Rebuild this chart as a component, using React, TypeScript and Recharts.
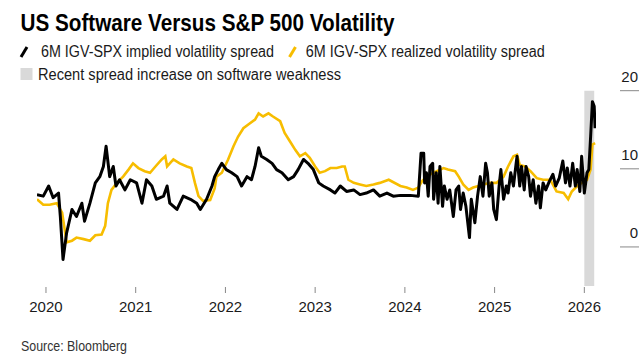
import { LineChart, Line, XAxis, YAxis, ReferenceArea } from "recharts"

// implied volatility spread (black), fractional year + value
const impliedDates = [
	2019.9, 2019.97, 2020.03, 2020.08, 2020.14, 2020.16, 2020.19, 2020.23, 2020.29, 2020.34,
	2020.4, 2020.43, 2020.49, 2020.55, 2020.6, 2020.64, 2020.67, 2020.71, 2020.75, 2020.78,
	2020.82, 2020.88, 2020.94, 2021.01, 2021.07, 2021.12, 2021.18, 2021.23, 2021.31, 2021.35,
	2021.38, 2021.46, 2021.53, 2021.61, 2021.68, 2021.72, 2021.79, 2021.85, 2021.88, 2021.92,
	2021.96, 2022.01, 2022.07, 2022.13, 2022.18, 2022.24, 2022.29, 2022.33, 2022.37, 2022.4,
	2022.46, 2022.52, 2022.57, 2022.63, 2022.7, 2022.76, 2022.81, 2022.87, 2022.92, 2022.98,
	2023.04, 2023.09, 2023.17, 2023.22, 2023.28, 2023.35, 2023.43, 2023.5, 2023.57, 2023.65,
	2023.72, 2023.8, 2023.87, 2023.95, 2024.06, 2024.15, 2024.18, 2024.21, 2024.22, 2024.24,
	2024.26, 2024.28, 2024.31, 2024.32, 2024.35, 2024.37, 2024.39, 2024.42, 2024.44, 2024.47,
	2024.5, 2024.54, 2024.57, 2024.6, 2024.62, 2024.65, 2024.68, 2024.72, 2024.74, 2024.78,
	2024.81, 2024.84, 2024.87, 2024.9, 2024.92, 2024.94, 2024.97, 2024.99, 2025.02, 2025.05,
	2025.07, 2025.1, 2025.13, 2025.15, 2025.18, 2025.21, 2025.24, 2025.25, 2025.28, 2025.3,
	2025.33, 2025.35, 2025.38, 2025.4, 2025.43, 2025.46, 2025.49, 2025.51, 2025.54, 2025.57,
	2025.61, 2025.65, 2025.68, 2025.72, 2025.76, 2025.79, 2025.81, 2025.84, 2025.87, 2025.9,
	2025.92, 2025.95, 2025.97, 2026.0, 2026.03, 2026.05, 2026.07, 2026.09, 2026.11, 2026.12,
]
const impliedValues = [
	6.7, 6.5, 7.8, 6.3, 6.9, 3.9, -1.6, 1.8, 4.8, 3.9,
	5.6, 3.3, 5.6, 8.2, 9.0, 10.3, 12.9, 9.0, 10.3, 7.8,
	8.6, 7.3, 8.6, 8.2, 5.6, 8.6, 7.8, 6.1, 6.5, 7.8,
	5.6, 4.8, 6.5, 6.1, 5.6, 4.8, 6.1, 7.8, 9.0, 9.9,
	10.7, 9.9, 9.5, 9.0, 7.8, 9.0, 8.6, 10.3, 12.7, 11.6,
	11.2, 10.7, 9.9, 9.5, 8.6, 9.0, 9.9, 11.2, 10.7, 9.9,
	8.2, 7.8, 7.3, 6.9, 7.8, 7.1, 7.3, 6.7, 6.9, 7.3,
	6.5, 6.9, 6.5, 6.6, 6.6, 6.5, 12.0, 12.0, 8.2, 9.5,
	6.5, 10.3, 10.7, 6.1, 9.5, 5.6, 10.3, 5.2, 7.8, 6.1,
	7.3, 3.9, 7.3, 7.8, 4.8, 6.9, 5.2, 1.2, 6.1, 3.1,
	6.5, 9.0, 6.5, 10.7, 9.5, 6.5, 8.2, 4.8, 3.5, 7.8,
	9.9, 6.1, 7.8, 6.9, 9.5, 7.8, 10.7, 11.6, 7.8, 10.3,
	7.3, 10.3, 9.0, 6.5, 8.6, 5.6, 7.8, 5.0, 8.2, 7.3,
	8.4, 9.3, 7.8, 8.8, 11.0, 8.2, 10.1, 7.8, 10.7, 7.8,
	9.9, 7.1, 11.6, 6.9, 9.5, 9.9, 14.1, 18.6, 18.0, 15.2,
]

// realized volatility spread (yellow)
const realizedDates = [
	2019.9, 2019.97, 2020.04, 2020.12, 2020.18, 2020.23, 2020.29, 2020.34, 2020.42, 2020.49,
	2020.55, 2020.62, 2020.66, 2020.69, 2020.73, 2020.79, 2020.86, 2020.92, 2020.97, 2021.03,
	2021.1, 2021.16, 2021.22, 2021.29, 2021.33, 2021.35, 2021.42, 2021.49, 2021.57, 2021.62,
	2021.66, 2021.7, 2021.75, 2021.83, 2021.88, 2021.9, 2021.96, 2022.03, 2022.09, 2022.14,
	2022.2, 2022.27, 2022.33, 2022.37, 2022.42, 2022.48, 2022.53, 2022.61, 2022.66, 2022.72,
	2022.78, 2022.83, 2022.89, 2022.94, 2023.0, 2023.05, 2023.11, 2023.17, 2023.24, 2023.3,
	2023.33, 2023.37, 2023.43, 2023.5, 2023.57, 2023.65, 2023.72, 2023.82, 2023.95, 2024.02,
	2024.09, 2024.15, 2024.19, 2024.24, 2024.32, 2024.43, 2024.48, 2024.56, 2024.6, 2024.65,
	2024.71, 2024.76, 2024.82, 2024.87, 2024.95, 2025.02, 2025.1, 2025.15, 2025.21, 2025.25,
	2025.28, 2025.34, 2025.4, 2025.47, 2025.54, 2025.62, 2025.69, 2025.77, 2025.82, 2025.86,
	2025.92, 2025.97, 2026.03, 2026.07, 2026.09, 2026.12,
]
const realizedValues = [
	6.1, 5.4, 5.4, 5.6, 4.4, 0.6, 0.8, 1.2, 1.0, 0.8,
	1.5, 1.6, 2.7, 5.6, 7.3, 8.2, 9.0, 9.9, 10.7, 10.1,
	9.7, 9.5, 10.3, 11.2, 11.6, 10.3, 11.2, 10.7, 10.3, 10.1,
	8.2, 6.5, 5.9, 6.0, 7.5, 9.0, 9.5, 11.2, 12.9, 14.1,
	15.2, 15.8, 16.3, 17.1, 16.7, 17.1, 16.7, 16.1, 14.6, 13.5,
	12.4, 11.6, 12.0, 11.4, 10.3, 9.5, 9.7, 10.1, 10.1, 10.3,
	10.3, 8.6, 8.2, 8.0, 7.8, 8.0, 8.2, 8.6, 7.8, 7.6,
	7.3, 7.6, 8.4, 9.0, 9.5, 10.1, 9.9, 9.7, 9.0, 8.0,
	7.3, 7.6, 7.8, 8.0, 8.2, 8.2, 9.0, 10.3, 11.6, 11.8,
	10.5, 10.3, 9.7, 8.8, 8.6, 8.6, 7.1, 6.9, 6.1, 7.1,
	7.8, 8.2, 8.6, 9.9, 13.1, 13.3,
]

const yearTicks = [2020, 2021, 2022, 2023, 2024, 2025, 2026]
const valueTicks = [0, 10, 20]
const shadeStart = 2026.0
const shadeEnd = 2026.11

const implied = impliedDates.map((t, i) => ({ t, v: impliedValues[i] }))
const realized = realizedDates.map((t, i) => ({ t, v: realizedValues[i] }))

const FONT = "'Liberation Sans', Arial, sans-serif"
const YELLOW = "#f7bd00"

const XTick = ({ x, payload }: any) => (
	<g>
		<line x1={x} x2={x} y1={287} y2={293} stroke="#888" />
		<text x={x} y={312} textAnchor="middle" fontSize={15} fill="#1a1a1a" fontFamily={FONT}>
			{payload.value}
		</text>
	</g>
)

const YTick = ({ y, payload }: any) => (
	<g>
		<line x1={620} x2={639} y1={y} y2={y} stroke="#888" />
		<text x={638} y={y - 9} textAnchor="end" fontSize={15} fill="#1a1a1a" fontFamily={FONT}>
			{payload.value}
		</text>
	</g>
)

export default function App() {
	return (
		<div style={{ position: "relative", width: 643, height: 360, background: "#fff" }}>
			<style>{"body{margin:0}"}</style>
			<div style={{ position: "absolute", left: 0, top: 0 }}>
				<LineChart width={643} height={360} margin={{ top: 90.7, right: 0, bottom: 0, left: 37 }}>
					<XAxis
						type="number"
						dataKey="t"
						domain={[2019.9, 2026.13]}
						ticks={yearTicks}
						allowDataOverflow
						axisLine={false}
						tickLine={false}
						tick={<XTick />}
						height={74}
					/>
					<YAxis
						orientation="right"
						domain={[-5, 20]}
						ticks={valueTicks}
						axisLine={false}
						tickLine={false}
						tick={<YTick />}
						width={47}
					/>
					<ReferenceArea x1={shadeStart} x2={shadeEnd} y1={-5} y2={20} fill="#d9d9d9" fillOpacity={1} stroke="none" />
					<Line data={realized} dataKey="v" type="linear" stroke={YELLOW} strokeWidth={2.6} dot={false} isAnimationActive={false} />
					<Line data={implied} dataKey="v" type="linear" stroke="#000" strokeWidth={3} strokeLinejoin="round" dot={false} isAnimationActive={false} />
				</LineChart>
			</div>
			<svg width={643} height={360} style={{ position: "absolute", left: 0, top: 0, pointerEvents: "none" }} fontFamily={FONT}>
				<text x={20.5} y={30.8} fontSize={24} fontWeight={700} fill="#000" textLength={374} lengthAdjust="spacingAndGlyphs">
					US Software Versus S&amp;P 500 Volatility
				</text>
				<line x1={21} y1={57} x2={27} y2={47} stroke="#000" strokeWidth={3} />
				<text x={41} y={57.4} fontSize={16} fill="#1a1a1a" textLength={233} lengthAdjust="spacingAndGlyphs">
					6M IGV-SPX implied volatility spread
				</text>
				<line x1={289.5} y1={57} x2={295.5} y2={47} stroke={YELLOW} strokeWidth={3} />
				<text x={305.7} y={57.4} fontSize={16} fill="#1a1a1a" textLength={239} lengthAdjust="spacingAndGlyphs">
					6M IGV-SPX realized volatility spread
				</text>
				<rect x={20.5} y={68} width={12} height={12} fill="#d9d9d9" />
				<text x={38} y={80} fontSize={16} fill="#1a1a1a" textLength={303} lengthAdjust="spacingAndGlyphs">
					Recent spread increase on software weakness
				</text>
				<text x={21} y={351} fontSize={14} fill="#333" textLength={106} lengthAdjust="spacingAndGlyphs">
					Source: Bloomberg
				</text>
			</svg>
		</div>
	)
}
